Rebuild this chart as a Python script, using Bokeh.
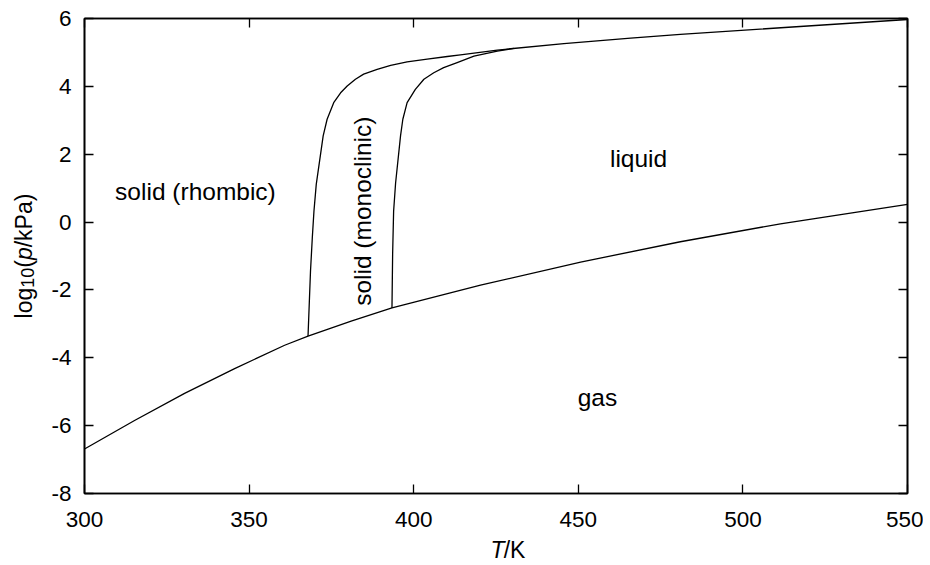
import math
from bokeh.plotting import figure
from bokeh.layouts import row, column
from bokeh.models import Range1d, LinearAxis, FixedTicker, Label
from bokeh.embed import file_html
from bokeh.resources import INLINE

# ---- data ----
x_ticks = [300, 350, 400, 450, 500, 550]
y_ticks = [-8, -6, -4, -2, 0, 2, 4, 6]
y_tick_labels = ["-8", "-6", "-4", "-2", "0", "2", "4", "6"]

# rhombic / monoclinic boundary, continuing into the solid / liquid line
rhombic_T = [367.9, 368.65, 369.2, 369.7, 370.4, 372.5, 373.7, 375.7, 377.8, 379.8, 382.3,
             384.8, 388.9, 393.0, 398.0, 404.1, 410.2, 414.2, 425.4, 445.6, 465.9, 481.0, 515.0, 550.0]
rhombic_v = [-3.36, -1.45, -0.46, 0.32, 1.11, 2.54, 3.03, 3.52, 3.81, 4.01, 4.21,
             4.36, 4.50, 4.62, 4.72, 4.80, 4.88, 4.93, 5.07, 5.26, 5.42, 5.53, 5.75, 5.97]

# monoclinic / liquid boundary
mono_T = [393.4, 393.6, 393.9, 394.5, 396.0, 396.7, 398.0, 400.5, 403.1, 406.1, 409.1,
          413.2, 418.3, 425.4, 430.4]
mono_v = [-2.53, -0.95, 0.32, 1.15, 2.54, 3.03, 3.52, 3.91, 4.21, 4.40, 4.55,
          4.70, 4.89, 5.04, 5.12]

# sublimation / vaporisation curve
gas_T = [300.0, 315.2, 330.4, 345.6, 360.8, 367.9, 381.0, 393.4, 420.3, 450.7, 481.0, 511.4, 550.0]
gas_v = [-6.69, -5.85, -5.05, -4.32, -3.63, -3.36, -2.92, -2.53, -1.86, -1.18, -0.58, -0.05, 0.52]

region_names = ["solid (rhombic)", "liquid", "gas"]
region_T = [333.7, 468.3, 455.8]
region_v = [0.91, 1.86, -5.16]
mono_label = "solid (monoclinic)"
mono_label_T = 384.4
mono_label_v = 0.32

FONT = "Liberation Sans"
TICK_SIZE = "22.5px"
TEXT_SIZE = "24.5px"
TITLE_FS = 23.0
SUB_FS = 18.0

# ---- layout sizes (pixels) ----
YLAB_W = 44
BORDER_L, BORDER_R, BORDER_T, BORDER_B = 40, 16, 18, 44
FRAME_W, FRAME_H = 823, 475
MAIN_W = BORDER_L + FRAME_W + BORDER_R
MAIN_H = BORDER_T + FRAME_H + BORDER_B
XLAB_H = 26
TOTAL_H = MAIN_H + XLAB_H

p = figure(width=MAIN_W, height=MAIN_H, x_range=Range1d(300, 550), y_range=Range1d(-8, 6),
           output_backend="svg", toolbar_location=None,
           min_border_left=BORDER_L, min_border_right=BORDER_R,
           min_border_top=BORDER_T, min_border_bottom=BORDER_B)
p.grid.visible = False
p.outline_line_color = "black"
p.outline_line_width = 1.6
p.background_fill_color = "white"
p.border_fill_color = "white"


def style_axis(ax, show_labels):
    ax.axis_line_color = "black"
    ax.axis_line_width = 1.6
    ax.major_tick_in = 9
    ax.major_tick_out = 0
    ax.major_tick_line_width = 1.3
    ax.minor_tick_line_color = None
    ax.major_label_text_font = FONT
    ax.major_label_text_color = "black"
    if show_labels:
        ax.major_label_text_font_size = TICK_SIZE
    else:
        ax.major_label_text_font_size = "0px"
        ax.major_label_text_color = None
        ax.major_label_standoff = 0


p.xaxis.ticker = FixedTicker(ticks=x_ticks)
p.yaxis.ticker = FixedTicker(ticks=y_ticks)
p.yaxis.major_label_overrides = {t: s for t, s in zip(y_ticks, y_tick_labels)}
style_axis(p.xaxis[0], True)
style_axis(p.yaxis[0], True)
p.xaxis.major_label_standoff = 18
p.yaxis.major_label_standoff = 13

top = LinearAxis(ticker=FixedTicker(ticks=x_ticks))
right = LinearAxis(ticker=FixedTicker(ticks=y_ticks))
style_axis(top, False)
style_axis(right, False)
p.add_layout(top, "above")
p.add_layout(right, "right")

lw = 1.3
for xs, ys in [(rhombic_T, rhombic_v), (mono_T, mono_v), (gas_T, gas_v)]:
    p.line(xs, ys, line_color="black", line_width=lw, line_join="round")

for name, t, v in zip(region_names, region_T, region_v):
    p.add_layout(Label(x=t, y=v, text=name, text_font=FONT, text_font_size=TEXT_SIZE,
                       text_align="center", text_baseline="middle", text_color="black"))
p.add_layout(Label(x=mono_label_T, y=mono_label_v, text=mono_label, angle=math.pi / 2,
                   text_font=FONT, text_font_size=TEXT_SIZE, text_align="center",
                   text_baseline="middle", text_color="black"))


def blank_fig(w, h, xr, yr):
    f = figure(width=w, height=h, x_range=xr, y_range=yr, output_backend="svg",
               toolbar_location=None, x_axis_type=None, y_axis_type=None,
               min_border=0, min_border_left=0, min_border_right=0,
               min_border_top=0, min_border_bottom=0)
    f.grid.visible = False
    f.outline_line_color = None
    f.background_fill_color = "white"
    f.border_fill_color = "white"
    return f


# x axis title: italic T + "/K" (pixel coordinates, y measured from the top)
xlab = blank_fig(MAIN_W, XLAB_H, Range1d(0, MAIN_W), Range1d(XLAB_H, 0))
x_center = BORDER_L + FRAME_W / 2
t_w = 0.611 * TITLE_FS
k_w = 0.945 * TITLE_FS
x_start = x_center - (t_w + k_w) / 2
text_y = 12.5
xlab.add_layout(Label(x=x_start, y=text_y, text="T", text_font=FONT,
                      text_font_size=f"{TITLE_FS}px", text_font_style="italic",
                      text_align="left", text_baseline="alphabetic", text_color="black"))
xlab.add_layout(Label(x=x_start + t_w, y=text_y, text="/K", text_font=FONT,
                      text_font_size=f"{TITLE_FS}px", text_align="left",
                      text_baseline="alphabetic", text_color="black"))

# y axis title: log10(p/kPa), rotated, built from pieces
ylab = blank_fig(YLAB_W, TOTAL_H, Range1d(0, YLAB_W), Range1d(TOTAL_H, 0))
pieces = [("log", TITLE_FS, "normal", 0.0, 1.334 * TITLE_FS),
          ("10", SUB_FS, "normal", 3.5, 1.112 * SUB_FS),
          ("(", TITLE_FS, "normal", 0.0, 0.333 * TITLE_FS),
          ("p", TITLE_FS, "italic", 0.0, 0.556 * TITLE_FS),
          ("/kPa)", TITLE_FS, "normal", 0.0, 2.334 * TITLE_FS)]
total = sum(pc[4] for pc in pieces)
frame_mid = BORDER_T + FRAME_H / 2
pos = frame_mid + total / 2
base_x = 23.0
for txt, size, style, shift, w in pieces:
    ylab.add_layout(Label(x=base_x + shift, y=pos, text=txt, angle=math.pi / 2,
                          text_font=FONT, text_font_size=f"{size}px", text_font_style=style,
                          text_align="left", text_baseline="alphabetic", text_color="black"))
    pos -= w

layout = row(ylab, column(p, xlab, spacing=0), spacing=0)
open("out.html", "w").write(file_html(layout, INLINE))
